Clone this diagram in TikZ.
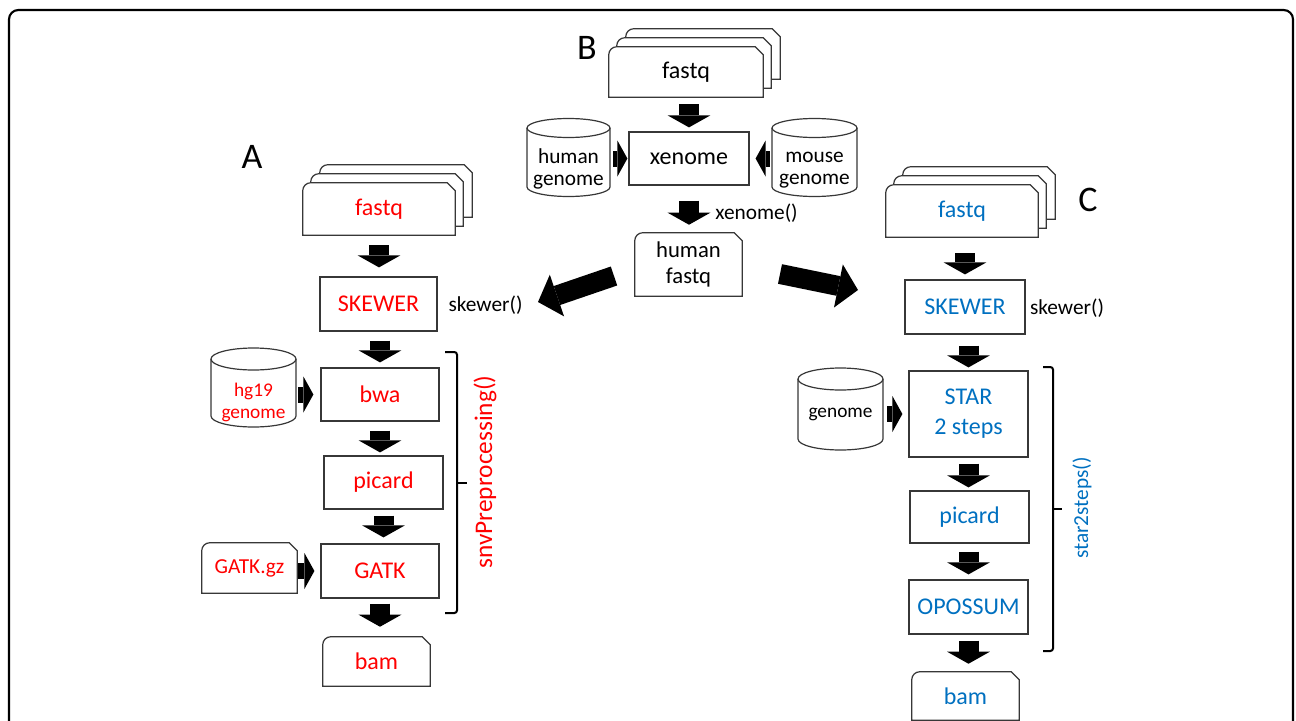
\documentclass[tikz,border=0pt]{standalone}
\usepackage{fontspec}
\setmainfont{Carlito}
\usetikzlibrary{arrows.meta,backgrounds}
\definecolor{cred}{RGB}{255,0,0}
\definecolor{cblue}{RGB}{0,112,192}
\definecolor{edge}{RGB}{55,55,55}
\newcommand\docpath[3]{%
  \path[shapeline] ([shift={(#2,#3)}]#1.south west)
    -- ([shift={(#2,{#3+8})}]#1.north west)
    arc[start angle=180,end angle=90,radius=6pt]
    -- ([shift={({#2-8},#3)}]#1.north east)
    -- ([shift={(#2,{#3+8})}]#1.north east)
    -- ([shift={(#2,#3)}]#1.south east) -- cycle;}
\newcommand\cylpath[5]{%
  \path[shapeline] ([shift={(-#2,#3)}]#1.center) -- ([shift={(-#2,#4)}]#1.center)
    arc[start angle=180,end angle=360,x radius=#2*0.75pt,y radius=#5*0.75pt]
    -- ([shift={(#2,#3)}]#1.center)
    arc[start angle=0,end angle=180,x radius=#2*0.75pt,y radius=#5*0.75pt] -- cycle;
  \draw[draw=edge,line width=0.9pt] ([shift={(-#2,#3)}]#1.center)
    arc[start angle=180,end angle=360,x radius=#2*0.75pt,y radius=#5*0.75pt];}
\tikzset{
  box/.style={draw=edge, line width=0.9pt, rectangle, inner sep=0pt, align=center},
  plain/.style={inner sep=0pt, align=center},
  shapeline/.style={draw=edge, line width=0.9pt, fill=white},
  ft18/.style={font=\fontsize{18}{22.5}\selectfont},
  ft17/.style={font=\fontsize{17}{19}\selectfont},
  ft16/.style={font=\fontsize{16}{16.5}\selectfont},
  ft145/.style={font=\fontsize{14.5}{16.5}\selectfont},
  ftbig/.style={font=\fontsize{27}{30}\selectfont},
  varr/.style={line width=15pt, -{Triangle[length=9pt,width=32pt,line width=0pt]}},
  harr/.style={line width=12pt, -{Triangle[length=7.5pt,width=27pt,line width=0pt]}},
  darr/.style={line width=15pt, -{Triangle[length=15pt,width=33pt,line width=0pt]}},
  brk/.style={line width=1.5pt, rounded corners=2pt}
}
\begin{document}
\begin{tikzpicture}[x=0.75pt,y=-0.75pt]
\useasboundingbox (0,0) rectangle (1296,721);
\draw[line width=1.6pt, rounded corners=7pt] (9,740) -- (9,10) -- (1293,10) -- (1293,740);

% ---------- B ----------
\node[plain, ftbig] (lblB) at (587,48) {B};
\node[plain, ft18, minimum width=115.5pt, minimum height=37.5pt] (fqB) at (686,72) {fastq};
\node[box, ft18, minimum width=90pt, minimum height=39.75pt] (xe) at (689,158.5) {xenome};
\node[plain, ft16, minimum width=62.25pt] (hgB) at (568.5,169) {human\\genome};
\node[plain, ft16, minimum width=63.75pt] (moB) at (814.5,170.5) {mouse\\genome};
\node[plain, ft16] (lblX) at (756.5,213) {xenome()};
\node[plain, ft17, minimum width=80.25pt, minimum height=47.25pt] (hf) at (688.5,264.5) {human\\fastq};

% ---------- A ----------
\node[plain, ftbig] (lblA) at (252,157) {A};
\node[plain, ft18, text=cred, minimum width=114pt, minimum height=39pt] (fqA) at (379,209) {fastq};
\node[box, ft18, text=cred, minimum width=87.75pt, minimum height=40.5pt] (SKA) at (378.5,304) {SKEWER};
\node[plain, ft16] (lblSA) at (485.5,305) {skewer()};
\node[box, ft18, text=cred, minimum width=88.5pt, minimum height=39.75pt] (bwa) at (380,394.5) {bwa};
\node[plain, ft145, text=cred, minimum width=63.75pt] (hg19) at (253.5,402.5) {hg19\\genome};
\node[box, ft18, text=cred, minimum width=89.25pt, minimum height=39.75pt] (picA) at (383.5,482.5) {picard};
\node[box, ft18, text=cred, minimum width=88.5pt, minimum height=40.5pt] (gatk) at (380,571) {GATK};
\node[plain, ft16, text=cred, minimum width=71.25pt, minimum height=37.5pt] (gz) at (249.5,568) {GATK.gz};
\node[plain, ft18, text=cred, minimum width=80.25pt, minimum height=36.75pt] (bamA) at (376.5,661.5) {bam};
\node[plain, text=cred, rotate=90, font=\fontsize{19}{22}\selectfont] (snv) at (485,472) {snvPreprocessing()};

% ---------- C ----------
\node[plain, ftbig] (lblC) at (1088,200) {C};
\node[plain, ft18, text=cblue, minimum width=114pt, minimum height=39pt] (fqC) at (962,211) {fastq};
\node[box, ft18, text=cblue, minimum width=90pt, minimum height=40.5pt] (SKC) at (965,307) {SKEWER};
\node[plain, ft16] (lblSC) at (1067,308) {skewer()};
\node[box, ft18, text=cblue, minimum width=89.25pt, minimum height=64.5pt] (star) at (968.5,414) {STAR\\2 steps};
\node[plain, ft145, minimum width=63.75pt] (genC) at (840.5,414) {genome};
\node[box, ft18, text=cblue, minimum width=89.25pt, minimum height=39pt] (picC) at (969.5,517) {picard};
\node[box, ft18, text=cblue, minimum width=89.25pt, minimum height=40.5pt] (opo) at (968.5,607) {OPOSSUM};
\node[plain, ft18, text=cblue, minimum width=80.25pt, minimum height=36pt] (bamC) at (965.5,696) {bam};
\node[plain, text=cblue, rotate=90, ft16] (s2s) at (1082,508) {star2steps()};

% ---------- shapes behind text ----------
\begin{pgfonlayer}{background}
  \docpath{fqB}{17}{-18}\docpath{fqB}{8}{-9}\docpath{fqB}{0}{0}
  \docpath{fqA}{17}{-18}\docpath{fqA}{8}{-9}\docpath{fqA}{0}{0}
  \docpath{fqC}{17}{-18}\docpath{fqC}{8}{-9}\docpath{fqC}{0}{0}
  \docpath{hf}{0}{0}
  \docpath{gz}{0}{0}
  \docpath{bamA}{0}{0}
  \docpath{bamC}{0}{0}
  \cylpath{hgB}{41.5}{-41}{18}{9.5}
  \cylpath{moB}{42.5}{-42.5}{16.5}{9.5}
  \cylpath{hg19}{42.5}{-43.5}{13.5}{11}
  \cylpath{genC}{42.5}{-35}{25}{11}
\end{pgfonlayer}

% ---------- brackets ----------
\draw[brk] (445,352) -- (457,352) -- (457,613) -- (445,613);
\draw[line width=1.5pt] (457,482.5) -- (467,482.5);
\draw[brk] (1043,367) -- (1053,367) -- (1053,651) -- (1043,651);
\draw[line width=1.5pt] (1053,509) -- (1062,509);

% ---------- vertical arrows ----------
\draw[varr, shorten <=5.25pt, shorten >=3pt] (xe.north |- fqB.south) -- (xe.north);
\draw[varr, shorten <=11.25pt, shorten >=6pt] (xe.south) -- (xe.south |- hf.north);
\draw[varr, shorten <=7.5pt, shorten >=6.75pt] (fqA.south) -- (fqA.south |- SKA.north);
\draw[varr, shorten <=6.75pt, shorten >=3.75pt] (bwa.north |- SKA.south) -- (bwa.north);
\draw[varr, shorten <=6.75pt, shorten >=2.25pt] (bwa.south) -- (bwa.south |- picA.north);
\draw[varr, shorten <=4.5pt, shorten >=4.5pt] (picA.south) -- (picA.south |- gatk.north);
\draw[varr, shorten <=3.75pt, shorten >=7.5pt] (gatk.south) -- (gatk.south |- bamA.north);
\draw[varr, shorten <=12pt, shorten >=3.75pt] (SKC.north |- fqC.south) -- (SKC.north);
\draw[varr, shorten <=8.25pt, shorten >=2.25pt] (star.north |- SKC.south) -- (star.north);
\draw[varr, shorten <=4.5pt, shorten >=2.25pt] (star.south) -- (star.south |- picC.north);
\draw[varr, shorten <=6pt, shorten >=3.75pt] (opo.north |- picC.south) -- (opo.north);
\draw[varr, shorten <=4.5pt, shorten >=6pt] (opo.south) -- (opo.south |- bamC.north);

% ---------- side arrows ----------
\draw[harr, shorten <=2.25pt, shorten >=0.75pt] (hgB.east |- xe.west) -- (xe.west);
\draw[harr, shorten <=1.5pt, shorten >=4.5pt] (moB.west |- xe.east) -- (xe.east);
\draw[harr, shorten <=1.5pt, shorten >=5.25pt] (hg19.east |- bwa.west) -- (bwa.west);
\draw[harr, shorten <=0.75pt, shorten >=4.5pt] (gz.east |- gatk.west) -- (gatk.west);
\draw[harr, shorten <=3pt, shorten >=4.5pt] (genC.east |- star.west) -- (star.west);

% ---------- diagonal arrows ----------
\coordinate (dl1) at (614,276);
\coordinate (dl2) at (538,302);
\coordinate (dr1) at (780,274);
\coordinate (dr2) at (858,290);
\draw[darr] (dl1) -- (dl2);
\draw[darr] (dr1) -- (dr2);
\end{tikzpicture}
\end{document}
